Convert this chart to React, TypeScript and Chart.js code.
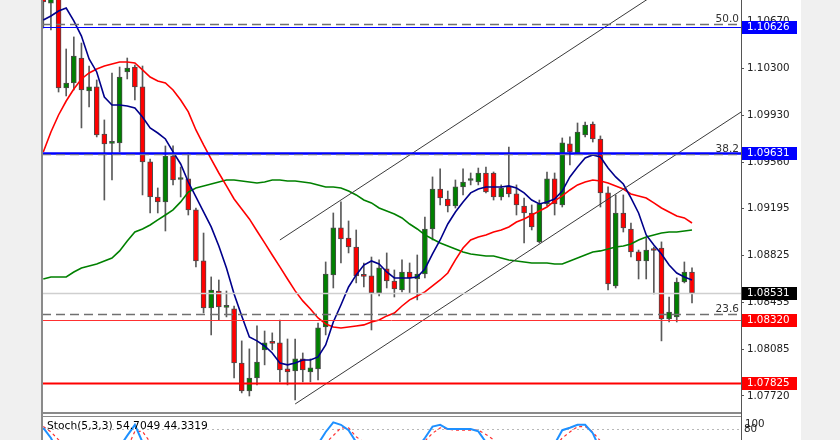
import React, { useEffect, useRef } from 'react';
import { Chart, registerables } from 'chart.js';

Chart.register(...registerables);

// ---------- DATA ----------
const opens = [
  1.11037, 1.10816, 1.10903, 1.10147, 1.10186, 1.10383, 1.10123, 1.10155, 1.09784, 1.0971,
  1.09714, 1.10273, 1.10312, 1.10155, 1.09564, 1.09288, 1.09249, 1.09611, 1.09426, 1.0943,
  1.09186, 1.08784, 1.08414, 1.08547, 1.08418, 1.08406, 1.0798, 1.0776, 1.07862, 1.08083,
  1.08138, 1.08138, 1.07933, 1.07917, 1.08012, 1.07909, 1.07933, 1.08264, 1.08674, 1.09044,
  1.08965, 1.08894, 1.08666, 1.08666, 1.08532, 1.08721, 1.08626, 1.08555, 1.08697, 1.08642,
  1.08681, 1.09036, 1.09351, 1.09272, 1.09217, 1.09367, 1.09418, 1.09406, 1.09477, 1.09477,
  1.09288, 1.09367, 1.09312, 1.09217, 1.09162, 1.08934, 1.09233, 1.0943, 1.09225, 1.09706,
  1.09635, 1.09776, 1.09863, 1.09745, 1.0932, 1.08587, 1.09162, 1.09036, 1.08855, 1.08784,
  1.0887, 1.08886, 1.08327, 1.08343, 1.08618, 1.08697,
];
const highs = [
  1.11116, 1.10998, 1.10958, 1.10454, 1.10549, 1.10501, 1.1032, 1.1021, 1.09895, 1.10265,
  1.10312, 1.10383, 1.10328, 1.1032, 1.09587, 1.09359, 1.0969, 1.0969, 1.09524, 1.09635,
  1.09201, 1.09004, 1.08658, 1.08634, 1.08547, 1.08429, 1.08154, 1.08091, 1.08272, 1.08232,
  1.08217, 1.08319, 1.08169, 1.08169, 1.08059, 1.08012, 1.08295, 1.08776, 1.09162, 1.09249,
  1.09099, 1.09028, 1.08768, 1.08815, 1.08792, 1.08847, 1.08713, 1.08792, 1.08768, 1.08831,
  1.0913, 1.09446, 1.09509, 1.09335, 1.09422, 1.09509, 1.09477, 1.09516, 1.09524, 1.09485,
  1.09383, 1.09682, 1.09383, 1.0928, 1.09225, 1.09264, 1.09485, 1.09477, 1.09753, 1.09761,
  1.09871, 1.09879, 1.09879, 1.09769, 1.09367, 1.09304, 1.09304, 1.09083, 1.0887, 1.08965,
  1.08894, 1.08934, 1.085, 1.0865, 1.08776, 1.08729,
];
const lows = [
  1.10619, 1.10604, 1.10115, 1.10084, 1.10131, 1.09832, 1.09997, 1.09761, 1.09264, 1.09422,
  1.09643, 1.10218, 1.10052, 1.09304, 1.09162, 1.09162, 1.0902, 1.09383, 1.09288, 1.09146,
  1.08737, 1.08374, 1.08201, 1.08319, 1.08343, 1.07862, 1.07744, 1.0772, 1.07807, 1.07965,
  1.08083, 1.07831, 1.07807, 1.07689, 1.07831, 1.07831, 1.07846, 1.08201, 1.08571, 1.08768,
  1.08847, 1.08611, 1.08579, 1.0824, 1.08508, 1.08571, 1.085, 1.0854, 1.08532, 1.08477,
  1.0865, 1.08949, 1.09225, 1.0917, 1.09201, 1.09304, 1.09383, 1.09383, 1.0932, 1.09264,
  1.09264, 1.09288, 1.09146, 1.08926, 1.09028, 1.08926, 1.09217, 1.09146, 1.09209, 1.0954,
  1.09627, 1.09761, 1.09721, 1.09209, 1.08555, 1.08571, 1.09012, 1.08815, 1.08642, 1.08642,
  1.08524, 1.08154, 1.08303, 1.08303, 1.08611, 1.08453,
];
const closes = [
  1.10824, 1.10903, 1.10147, 1.10186, 1.10399, 1.10131, 1.10155, 1.09776, 1.09706, 1.09714,
  1.10233, 1.10304, 1.10155, 1.09564, 1.09288, 1.09249, 1.09611, 1.09422, 1.0943, 1.09186,
  1.08784, 1.08414, 1.08555, 1.08421, 1.08425, 1.0798, 1.0776, 1.07862, 1.07988, 1.08138,
  1.08134, 1.07925, 1.07909, 1.08012, 1.07925, 1.07941, 1.08256, 1.08681, 1.09044, 1.08957,
  1.08894, 1.08666, 1.08662, 1.08532, 1.08729, 1.08626, 1.08563, 1.08697, 1.0865, 1.08681,
  1.09036, 1.09351, 1.0928, 1.09217, 1.09367, 1.09406, 1.09422, 1.09477, 1.09327, 1.09288,
  1.09359, 1.09312, 1.09225, 1.09162, 1.09052, 1.09233, 1.0943, 1.09233, 1.09714, 1.09643,
  1.098, 1.09855, 1.09745, 1.0932, 1.08603, 1.09162, 1.09044, 1.08855, 1.08784, 1.0887,
  1.08866, 1.08327, 1.08382, 1.08618, 1.08697, 1.08531,
];

// moving averages (navy fast, red medium, green slow)
const maFast = [
  1.10682, 1.10714, 1.10753, 1.10777, 1.10675, 1.10556, 1.10375, 1.10273, 1.10076, 1.10013,
  1.10013, 1.10005, 1.09989, 1.09918, 1.09832, 1.09792, 1.09745, 1.09643, 1.09548, 1.09406,
  1.09288, 1.0917, 1.09052, 1.08902, 1.08729, 1.08524, 1.08351, 1.08185, 1.08154, 1.08114,
  1.08059, 1.0798, 1.07965, 1.0798, 1.08004, 1.08004, 1.08028, 1.08122, 1.08303, 1.08437,
  1.08579, 1.08674, 1.08752, 1.08784, 1.0876, 1.08697, 1.0865, 1.0865, 1.0865, 1.08658,
  1.08721, 1.08839, 1.08949, 1.09075, 1.0917, 1.09249, 1.0932, 1.09351, 1.09367, 1.09367,
  1.09367, 1.09375, 1.09359, 1.0932, 1.09264, 1.09233, 1.09249, 1.09272, 1.09335, 1.09446,
  1.09524, 1.09595, 1.09619, 1.09603, 1.09516, 1.09446, 1.0939, 1.0928, 1.09162, 1.08989,
  1.0891, 1.08839, 1.08752, 1.08689, 1.08658, 1.08634,
];
const maMid = [
  1.09643, 1.098, 1.09934, 1.10044, 1.10139, 1.10218, 1.10265, 1.10296, 1.1032, 1.10336,
  1.10352, 1.10352, 1.10344, 1.10289, 1.10233, 1.10202, 1.10186, 1.10131, 1.10052, 1.09958,
  1.09816, 1.09698, 1.09587, 1.09477, 1.09375, 1.09272, 1.09193, 1.09115, 1.0902, 1.08926,
  1.08831, 1.08737, 1.08642, 1.08548, 1.08469, 1.08406, 1.08335, 1.08288, 1.08264, 1.08256,
  1.08264, 1.08272, 1.0828, 1.08303, 1.08319, 1.08351, 1.08374, 1.08429, 1.08477, 1.08508,
  1.0854, 1.08587, 1.08634, 1.08689, 1.08792, 1.08886, 1.08949, 1.08973, 1.08989, 1.09012,
  1.09028, 1.09052, 1.09091, 1.09115, 1.09146, 1.09178, 1.09209, 1.09257, 1.09296, 1.09343,
  1.09383, 1.09406, 1.09422, 1.09414, 1.09398, 1.09375, 1.09351, 1.09312, 1.09296, 1.0928,
  1.09241, 1.09201, 1.0917, 1.09138, 1.09123, 1.09083,
];
const maSlow = [
  1.08642, 1.08658, 1.08658, 1.08658, 1.08697, 1.08729, 1.08744, 1.0876, 1.08784, 1.08807,
  1.08863, 1.08941, 1.09012, 1.09036, 1.09067, 1.09107, 1.09146, 1.09186, 1.09249, 1.09327,
  1.09359, 1.09375, 1.0939, 1.09406, 1.09422, 1.09422, 1.09414, 1.09406, 1.09398, 1.09406,
  1.09422, 1.09422, 1.09414, 1.09414, 1.09406, 1.09398, 1.09383, 1.09367, 1.09367, 1.09359,
  1.09335, 1.09304, 1.09264, 1.09241, 1.09201, 1.09178, 1.09154, 1.09123, 1.09075, 1.09036,
  1.08989, 1.08957, 1.08926, 1.08902, 1.08878, 1.08855, 1.08839, 1.08831, 1.08823, 1.08823,
  1.08807, 1.08792, 1.08784, 1.08776, 1.08768, 1.08768, 1.08768, 1.0876, 1.0876, 1.08784,
  1.08807, 1.08831, 1.08855, 1.08863, 1.08878, 1.08894, 1.08902, 1.08918, 1.08949, 1.08973,
  1.08989, 1.09004, 1.09012, 1.09012, 1.0902, 1.09028,
];

// stochastic (5,3,3) main and signal lines
const stochK = [
  82, 65, 40, 30, 35, 28, 30, 22, 15, 25,
  50, 69, 87, 58, 30, 20, 35, 30, 28, 20,
  10, 8, 15, 18, 22, 10, 5, 12, 25, 40,
  42, 30, 28, 38, 35, 40, 55, 75, 91, 87,
  78, 58, 45, 30, 35, 30, 28, 35, 38, 48,
  65, 84, 87, 80, 80, 80, 80, 76, 58, 45,
  40, 35, 25, 20, 15, 30, 45, 55, 78, 82,
  87, 87, 73, 45, 20, 30, 28, 18, 15, 25,
  22, 10, 15, 30, 45, 54.7049,
];
const stochD = [
  84, 75, 62, 45, 35, 31, 31, 27, 22, 21,
  30, 48, 76, 76, 58, 36, 28, 28, 31, 26,
  19, 13, 11, 14, 18, 17, 12, 9, 14, 26,
  36, 37, 33, 32, 34, 38, 43, 57, 69, 82,
  82, 67, 58, 44, 37, 32, 31, 31, 34, 40,
  60, 73, 82, 80, 78, 78, 78, 78, 71, 62,
  48, 40, 33, 27, 20, 22, 30, 50, 65, 75,
  84, 84, 75, 60, 45, 32, 26, 25, 20, 19,
  21, 19, 16, 18, 30, 44.3319,
];

// price-axis tick labels
const yTickValues = [1.1067, 1.103, 1.0993, 1.0956, 1.09195, 1.08825, 1.08455, 1.08085, 1.0772];

// horizontal price lines: resistance, support, bid
const hLinePrices = [1.10626, 1.09631, 1.08531, 1.0832, 1.07825];

// Fibonacci levels
const fibLabels = ['50.0', '38.2', '23.6'];
const fibPrices = [1.10647, 1.09627, 1.08366];

// channel trend lines [barIndex, price]
const trendUpper = [[31.0, 1.08949], [80.0, 1.10879]];
const trendLower = [[33.0, 1.07657], [92.0, 1.0998]];

// ---------- VIEW ----------
const X_MIN = -0.17;
const X_MAX = 91.42;
const Y_MIN = 1.07578;
const Y_MAX = 1.1084;
const STOCH_MIN = 61.67;
const STOCH_MAX = 105;
const FONT = 'DejaVu Sans';

const hLineStyles = [
  { color: '#0000ff', width: 1, box: '#0000ff' },
  { color: '#0000ff', width: 2.5, box: '#0000ff' },
  { color: '#cfcfcf', width: 1.5, box: '#000000' },
  { color: '#ff3030', width: 1, box: '#ff0000' },
  { color: '#ff0000', width: 2, box: '#ff0000' },
];

const PLOT_LEFT = 42;
const AXIS_W = 99;
const WHITE_RIGHT = 801;

const fixAxis = (s: any) => {
  s.width = AXIS_W;
  s.paddingTop = 0;
  s.paddingBottom = 0;
};

const mainPlugin = {
  id: 'mt4main',
  beforeDraw(chart: any) {
    const { ctx, height } = chart;
    ctx.save();
    ctx.fillStyle = '#ffffff';
    ctx.fillRect(PLOT_LEFT, 0, WHITE_RIGHT - PLOT_LEFT, height);
    ctx.restore();
  },
  afterDatasetsDraw(chart: any) {
    const { ctx, chartArea: a, scales } = chart;
    const ys = scales.y;
    ctx.save();
    ctx.beginPath();
    ctx.rect(a.left, a.top, a.right - a.left, a.bottom - a.top);
    ctx.clip();
    // fib dashed levels
    fibPrices.forEach((p) => {
      const py = Math.round(ys.getPixelForValue(p)) + 0.5;
      ctx.strokeStyle = '#707070';
      ctx.lineWidth = 1.5;
      ctx.setLineDash([9, 5]);
      ctx.beginPath();
      ctx.moveTo(a.left, py);
      ctx.lineTo(a.right, py);
      ctx.stroke();
    });
    ctx.setLineDash([]);
    // horizontal price lines
    hLinePrices.forEach((p, k) => {
      const st = hLineStyles[k];
      const py = Math.round(ys.getPixelForValue(p)) + 0.5;
      ctx.strokeStyle = st.color;
      ctx.lineWidth = st.width;
      ctx.beginPath();
      ctx.moveTo(a.left, py);
      ctx.lineTo(a.right, py);
      ctx.stroke();
    });
    // dashes of the 38.2 level over the thick blue line
    {
      const py = Math.round(ys.getPixelForValue(fibPrices[1])) + 0.5;
      ctx.strokeStyle = '#6a6a9a';
      ctx.lineWidth = 1;
      ctx.setLineDash([9, 5]);
      ctx.beginPath();
      ctx.moveTo(a.left, py);
      ctx.lineTo(a.right, py);
      ctx.stroke();
      ctx.setLineDash([]);
    }
    ctx.restore();

    // fib labels
    ctx.save();
    ctx.font = `10.5px "${FONT}"`;
    ctx.fillStyle = '#333333';
    ctx.textAlign = 'right';
    ctx.textBaseline = 'alphabetic';
    fibPrices.forEach((p, k) => {
      const py = ys.getPixelForValue(p);
      ctx.fillText(fibLabels[k], a.right - 2, py - 2);
    });
    ctx.restore();
  },
  afterDraw(chart: any) {
    const { ctx, chartArea: a, scales, height } = chart;
    const ys = scales.y;
    ctx.save();
    // panel borders
    ctx.fillStyle = '#8a8a8a';
    ctx.fillRect(PLOT_LEFT - 1, 0, 2, height);
    ctx.fillRect(PLOT_LEFT - 1, height - 2, a.right - PLOT_LEFT + 1, 2);
    // price boxes on the axis
    ctx.font = `10.3px "${FONT}"`;
    ctx.textAlign = 'left';
    ctx.textBaseline = 'middle';
    hLinePrices.forEach((p, k) => {
      const st = hLineStyles[k];
      const py = Math.round(ys.getPixelForValue(p));
      ctx.fillStyle = st.box;
      ctx.fillRect(a.right + 1, py - 6, 55, 13);
      ctx.fillStyle = '#ffffff';
      ctx.fillText(p.toFixed(5), a.right + 6, py + 0.5);
    });
    ctx.restore();
  },
};

const stochPlugin = {
  id: 'mt4stoch',
  beforeDraw(chart: any) {
    const { ctx, height } = chart;
    ctx.save();
    ctx.fillStyle = '#ffffff';
    ctx.fillRect(PLOT_LEFT, 0, WHITE_RIGHT - PLOT_LEFT, height);
    ctx.restore();
  },
  beforeDatasetsDraw(chart: any) {
    const { ctx, chartArea: a, scales } = chart;
    const py = Math.round(scales.y.getPixelForValue(80)) + 0.5;
    ctx.save();
    ctx.strokeStyle = '#b8b8b8';
    ctx.lineWidth = 1;
    ctx.setLineDash([2, 3]);
    ctx.beginPath();
    ctx.moveTo(a.left, py);
    ctx.lineTo(a.right, py);
    ctx.stroke();
    ctx.restore();
  },
  afterDraw(chart: any) {
    const { ctx, chartArea: a, scales, height } = chart;
    const ys = scales.y;
    ctx.save();
    ctx.fillStyle = '#8a8a8a';
    ctx.fillRect(PLOT_LEFT - 1, 0, 2, height);
    ctx.fillRect(PLOT_LEFT - 1, 2, a.right - PLOT_LEFT + 1, 1);
    ctx.font = `10.7px "${FONT}"`;
    ctx.fillStyle = '#000000';
    ctx.textAlign = 'left';
    ctx.textBaseline = 'middle';
    const last = stochK.length - 1;
    ctx.fillText(`Stoch(5,3,3) ${stochK[last].toFixed(4)} ${stochD[last].toFixed(4)}`, PLOT_LEFT + 5, 12);
    ctx.font = `10.3px "${FONT}"`;
    ctx.fillStyle = '#222222';
    ctx.fillText('100', a.right + 4, 10);
    ctx.fillText('80', a.right + 3, ys.getPixelForValue(80) + 0.5);
    ctx.restore();
  },
};

export default function App() {
  const mainRef = useRef<HTMLCanvasElement>(null);
  const stochRef = useRef<HTMLCanvasElement>(null);

  useEffect(() => {
    document.body.style.margin = '0';
    const idx = opens.map((_, i) => i);
    const up = idx.map((i) => closes[i] >= opens[i]);

    const xScale = {
      type: 'linear' as const,
      min: X_MIN,
      max: X_MAX,
      offset: false,
      display: false,
    };

    const main = new Chart(mainRef.current as HTMLCanvasElement, {
      type: 'bar',
      data: {
        datasets: [
          {
            type: 'line',
            data: trendUpper.map(([x, y]) => ({ x, y })),
            borderColor: '#3a3a3a',
            borderWidth: 1,
            pointRadius: 0,
            order: 0,
          } as any,
          {
            type: 'line',
            data: trendLower.map(([x, y]) => ({ x, y })),
            borderColor: '#3a3a3a',
            borderWidth: 1,
            pointRadius: 0,
            order: 0,
          } as any,
          {
            type: 'line',
            data: maFast.map((y, i) => ({ x: i, y })),
            borderColor: '#00008b',
            borderWidth: 1.6,
            pointRadius: 0,
            tension: 0,
            order: 1,
          } as any,
          {
            type: 'line',
            data: maMid.map((y, i) => ({ x: i, y })),
            borderColor: '#ff0000',
            borderWidth: 1.6,
            pointRadius: 0,
            tension: 0,
            order: 2,
          } as any,
          {
            type: 'line',
            data: maSlow.map((y, i) => ({ x: i, y })),
            borderColor: '#008000',
            borderWidth: 1.6,
            pointRadius: 0,
            tension: 0,
            order: 3,
          } as any,
          {
            type: 'bar',
            data: idx.map((i) => ({ x: i, y: [opens[i], closes[i]] })),
            backgroundColor: up.map((u) => (u ? '#008000' : '#ff0000')),
            borderColor: '#4a4a4a',
            borderWidth: 1,
            borderSkipped: false,
            barThickness: 5,
            minBarLength: 2,
            grouped: false,
            order: 4,
          } as any,
          {
            type: 'bar',
            data: idx.map((i) => ({ x: i, y: [lows[i], highs[i]] })),
            backgroundColor: '#5a5a5a',
            borderWidth: 0,
            barThickness: 1,
            grouped: false,
            order: 5,
          } as any,
        ],
      },
      options: {
        responsive: false,
        animation: false,
        devicePixelRatio: 1,
        events: [],
        layout: { padding: { left: PLOT_LEFT, right: 0, top: 0, bottom: 0 } },
        plugins: { legend: { display: false }, tooltip: { enabled: false } },
        scales: {
          x: xScale,
          y: {
            type: 'linear',
            position: 'right',
            min: Y_MIN,
            max: Y_MAX,
            bounds: 'data',
            afterFit: fixAxis,
            afterBuildTicks: (s: any) => {
              s.ticks = yTickValues.map((v) => ({ value: v }));
            },
            grid: {
              display: true,
              drawOnChartArea: false,
              drawTicks: true,
              tickLength: 3,
              color: '#555555',
            },
            border: { display: true, color: '#555555', width: 1 },
            ticks: {
              autoSkip: false,
              padding: 3,
              color: '#222222',
              font: { family: FONT, size: 10.3 },
              callback: (v: any) => Number(v).toFixed(5),
            },
          },
        },
      } as any,
      plugins: [mainPlugin],
    });

    const stoch = new Chart(stochRef.current as HTMLCanvasElement, {
      type: 'line',
      data: {
        datasets: [
          {
            data: stochK.map((y, i) => ({ x: i, y })),
            borderColor: '#1e90ff',
            borderWidth: 2,
            pointRadius: 0,
            tension: 0,
            order: 0,
          },
          {
            data: stochD.map((y, i) => ({ x: i, y })),
            borderColor: '#ff3030',
            borderWidth: 1.2,
            borderDash: [3, 3],
            pointRadius: 0,
            tension: 0,
            order: 1,
          },
        ],
      },
      options: {
        responsive: false,
        animation: false,
        devicePixelRatio: 1,
        events: [],
        layout: { padding: { left: PLOT_LEFT, right: 0, top: 0, bottom: 0 } },
        plugins: { legend: { display: false }, tooltip: { enabled: false } },
        scales: {
          x: xScale,
          y: {
            type: 'linear',
            position: 'right',
            min: STOCH_MIN,
            max: STOCH_MAX,
            bounds: 'data',
            afterFit: fixAxis,
            grid: { display: false, drawOnChartArea: false },
            border: { display: true, color: '#555555', width: 1 },
            ticks: { display: false },
          },
        },
      } as any,
      plugins: [stochPlugin],
    });

    return () => {
      main.destroy();
      stoch.destroy();
    };
  }, []);

  return (
    <div
      style={{
        position: 'fixed',
        left: 0,
        top: 0,
        width: 840,
        height: 440,
        background: '#f0f0f0',
        overflow: 'hidden',
      }}
    >
      <canvas
        ref={mainRef}
        width={840}
        height={414}
        style={{ position: 'absolute', left: 0, top: 0, width: 840, height: 414 }}
      />
      <canvas
        ref={stochRef}
        width={840}
        height={26}
        style={{ position: 'absolute', left: 0, top: 414, width: 840, height: 26 }}
      />
    </div>
  );
}
